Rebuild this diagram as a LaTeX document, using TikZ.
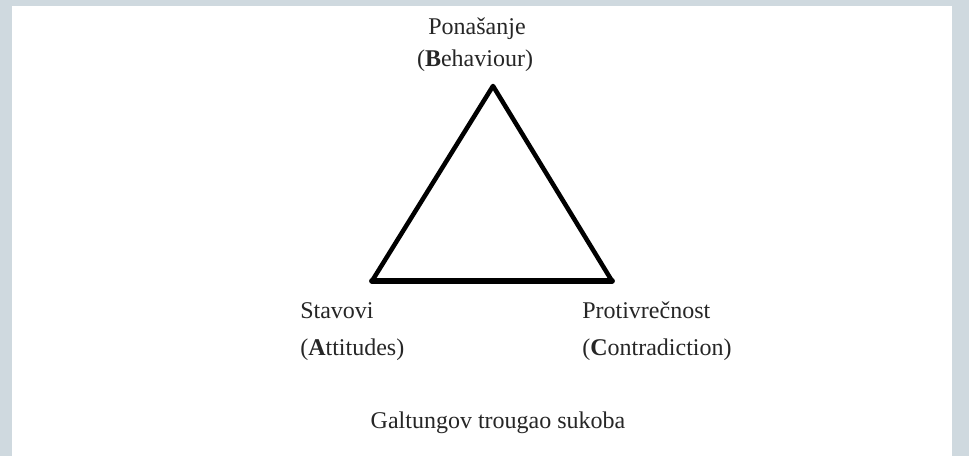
\documentclass[tikz,border=0pt]{standalone}
\usepackage{fontspec}
\setmainfont{Liberation Serif}
\definecolor{okvir}{RGB}{207,217,223}

\begin{document}
\begin{tikzpicture}[x=0.75pt, y=-0.75pt, font=\fontsize{18}{21}\selectfont,
  lbl/.style={inner sep=0pt, anchor=base west, text=black!85},
  stranica/.style={line width=3.4pt, line cap=round, line join=round}]

                % --- Okvir / pozadina ---
                \useasboundingbox (0,0) rectangle (969,456);
                \fill[okvir] (0,0) rectangle (969,456);
                \fill[white] (12,6) rectangle (952,456);

                % --- Temena trougla ---
                \coordinate (B) at (493,86);
                \coordinate (A) at (372,281);
                \coordinate (C) at (612,281);

                % --- Stranice ---
                \draw[stranica] (A) -- (B) -- (C);
                \draw[stranica, line width=4.4pt] (A) -- (C);

                % --- Oznake temena ---
                \node[lbl, anchor=base] (pon) at (477,35) {Ponašanje};
                \node[lbl, anchor=base] (beh) at (475,67) {(\textbf{B}ehaviour)};
                \node[lbl] (stav) at (300,318) {Stavovi};
                \node[lbl] (att) at (300,355) {(\textbf{A}ttitudes)};
                \node[lbl] (prot) at (582,318) {Protivrečnost};
                \node[lbl] (con) at (582,355) {(\textbf{C}ontradiction)};

                % --- Naslov ---
                \node[lbl, anchor=base] (nasl) at (498,428) {Galtungov trougao sukoba};

\end{tikzpicture}
\end{document}
